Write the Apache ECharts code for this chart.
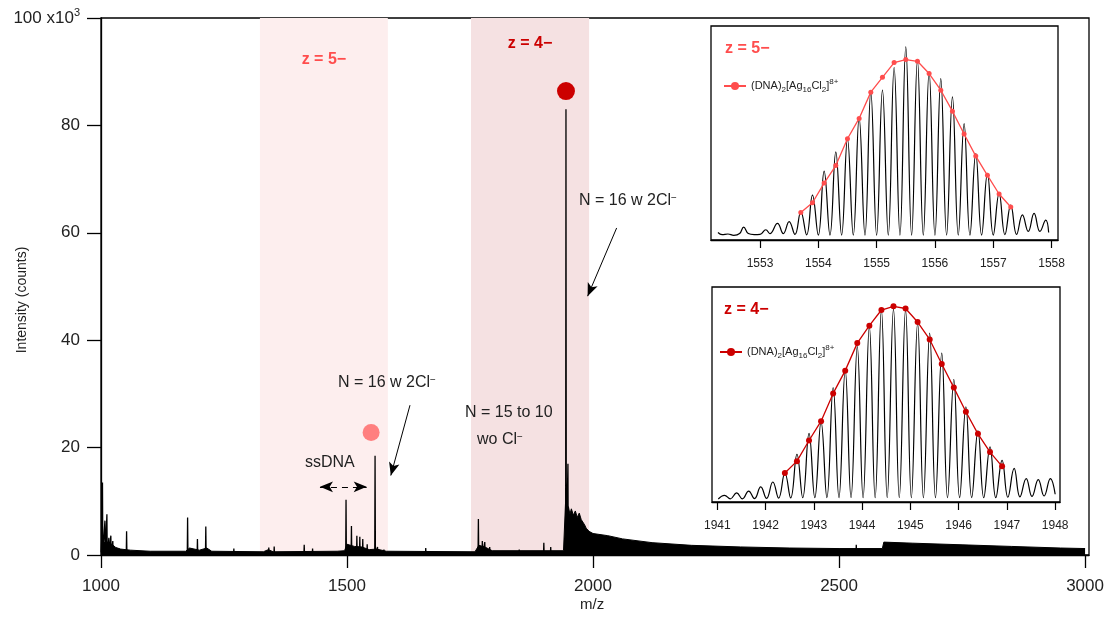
<!DOCTYPE html>
<html lang="en">
<head>
<meta charset="UTF-8">
<title>Mass spectrum</title>
<script src="https://cdn.jsdelivr.net/npm/echarts@6/dist/echarts.min.js"></script>
<style>html, body { margin: 0; padding: 0; background: #fff; }</style>
</head>
<body>
<div id="ms_wrap" style="width: 1107px; height: 617px;"></div>
<script>
    // main spectrum, intensity in 10^3 counts
    var xTicks = [1000, 1500, 2000, 2500, 3000];
    var floorMz  = [1000, 1001, 1006, 1010, 1015, 1022, 1030, 1040, 1060, 1100, 1172, 1180, 1200, 1215, 1225, 1330, 1340, 1350, 1480, 1495, 1500, 1515, 1530, 1545, 1560, 1580, 1760, 1768, 1780, 1795, 1900, 1940, 1943, 1944, 1947, 1950, 1953, 1956, 1960, 1964, 1968, 1972, 1976, 1980, 1983, 1986, 1992, 2000, 2030, 2060, 2120, 2200, 2300, 2400, 2500, 2588, 2591, 2650, 2750, 2850, 2950, 3000];
    var floorInt = [0.5, 2.6, 2.2, 2.6, 1.8, 2.0, 1.4, 1.1, 0.9, 0.7, 0.7, 1.3, 0.9, 1.3, 0.7, 0.6, 1.0, 0.6, 0.7, 0.8, 2.0, 1.6, 1.5, 1.0, 1.1, 0.7, 0.6, 1.8, 1.5, 0.8, 0.8, 0.8, 1.0, 9.5, 8.0, 9.0, 7.6, 8.6, 7.4, 8.2, 7.0, 7.8, 6.6, 6.8, 5.6, 5.0, 4.4, 4.0, 3.6, 3.0, 2.3, 1.8, 1.5, 1.3, 1.2, 1.2, 2.4, 2.2, 1.9, 1.6, 1.3, 1.2];
    var peakMz  = [1003, 1008, 1012, 1016, 1020, 1024, 1052, 1176, 1196, 1213, 1270, 1341, 1352, 1413, 1430, 1498, 1509, 1520, 1526, 1532, 1541, 1557, 1562, 1575, 1660, 1767, 1775, 1780, 1790, 1850, 1900, 1914, 1945, 1949, 2535];
    var peakInt = [13.5, 6.4, 7.6, 3.2, 3.6, 2.6, 4.4, 7.0, 3.0, 5.3, 1.2, 1.4, 1.6, 1.9, 1.2, 10.3, 5.4, 3.6, 3.4, 3.0, 2.0, 18.5, 1.5, 1.0, 1.3, 6.7, 2.6, 2.4, 1.5, 1.0, 2.3, 1.5, 83.0, 17.0, 1.9];
    var dot5 = [1549, 22.8];
    var dot4 = [1945, 86.4];
    var band5 = [1323, 1583];
    var band4 = [1752, 1992];

    // inset z = 5- (normalised intensity)
    var top5Ticks = [1553, 1554, 1555, 1556, 1557, 1558];
    var top5Mz  = [1552.28, 1552.35, 1552.45, 1552.55, 1552.65, 1552.72, 1552.8, 1552.9, 1553.0, 1553.1, 1553.17, 1553.3, 1553.4, 1553.5, 1553.6, 1553.7, 1553.8, 1553.9, 1554.0, 1554.1, 1554.2, 1554.3, 1554.4, 1554.5, 1554.6, 1554.7, 1554.8, 1554.9, 1555.0, 1555.1, 1555.2, 1555.3, 1555.4, 1555.5, 1555.6, 1555.7, 1555.8, 1555.9, 1556.0, 1556.1, 1556.2, 1556.3, 1556.4, 1556.5, 1556.6, 1556.7, 1556.8, 1556.9, 1557.0, 1557.1, 1557.2, 1557.3, 1557.4, 1557.5, 1557.6, 1557.7, 1557.8, 1557.9, 1557.95];
    var top5Int = [3.5, 2.5, 2.8, 2.2, 3.0, 6.0, 3.0, 2.5, 2.6, 4.8, 3.0, 7.8, 3.0, 8.6, 2.6, 13.2, 2.4, 21.0, 2.3, 32.2, 2.3, 41.2, 2.3, 47.4, 2.3, 57.2, 2.3, 69.2, 2.3, 70.0, 2.3, 80.6, 2.3, 90.2, 2.3, 84.0, 2.3, 78.5, 2.3, 75.4, 2.3, 66.9, 2.3, 54.4, 2.3, 40.4, 2.3, 31.1, 2.3, 21.8, 2.5, 16.3, 2.6, 11.7, 4.0, 12.4, 4.0, 9.3, 3.5];
    var fit5Mz  = [1553.7, 1553.9, 1554.1, 1554.3, 1554.5, 1554.7, 1554.9, 1555.1, 1555.3, 1555.5, 1555.7, 1555.9, 1556.1, 1556.3, 1556.5, 1556.7, 1556.9, 1557.1, 1557.3];
    var fit5Int = [12.8, 17.4, 26.6, 34.8, 47.3, 56.8, 69.1, 76.0, 82.9, 84.3, 83.5, 77.8, 70.0, 60.2, 49.5, 39.2, 30.2, 21.5, 15.4];

    // inset z = 4-
    var bot4Ticks = [1941, 1942, 1943, 1944, 1945, 1946, 1947, 1948];
    var bot4PeakMz  = [1941.15, 1941.4, 1941.65, 1941.9, 1942.15, 1942.4, 1942.65, 1942.9, 1943.15, 1943.4, 1943.65, 1943.9, 1944.15, 1944.4, 1944.65, 1944.9, 1945.15, 1945.4, 1945.65, 1945.9, 1946.15, 1946.4, 1946.65, 1946.9, 1947.15, 1947.4, 1947.65, 1947.9];
    var bot4PeakInt = [3.1, 4.2, 5.1, 7.0, 9.3, 13.5, 22.2, 31.9, 37.3, 53.2, 61.4, 72.3, 81.6, 89.4, 89.7, 89.4, 83.2, 78.5, 69.2, 57.1, 44.3, 33.1, 25.7, 19.4, 15.6, 10.9, 10.4, 10.9];
    var bot4ValleyMz  = [1941.02, 1941.27, 1941.52, 1941.77, 1942.02, 1942.27, 1942.52, 1942.77, 1943.02, 1943.27, 1943.52, 1943.77, 1944.02, 1944.27, 1944.52, 1944.77, 1945.02, 1945.27, 1945.52, 1945.77, 1946.02, 1946.27, 1946.52, 1946.77, 1947.02, 1947.27, 1947.52, 1947.77, 1948.0];
    var bot4ValleyInt = [1.4, 1.5, 1.5, 1.6, 1.7, 1.8, 1.9, 2.0, 2.0, 2.0, 2.0, 2.0, 2.0, 2.0, 2.0, 2.0, 2.0, 2.0, 2.0, 2.0, 2.0, 2.0, 2.0, 2.0, 2.2, 2.4, 2.6, 2.8, 3.6];
    var fit4Mz  = [1942.4, 1942.65, 1942.9, 1943.15, 1943.4, 1943.65, 1943.9, 1944.15, 1944.4, 1944.65, 1944.9, 1945.15, 1945.4, 1945.65, 1945.9, 1946.15, 1946.4, 1946.65, 1946.9];
    var fit4Int = [13.5, 19.0, 28.6, 37.6, 50.5, 61.1, 73.9, 82.0, 89.3, 91.0, 90.0, 83.7, 75.6, 64.2, 53.2, 42.0, 31.7, 23.2, 16.6];

    var FONT = 'Liberation Sans, Arial, Helvetica, sans-serif';

    function zip(a, b) {
        var out = [];
        for (var i = 0; i < a.length; i++) out.push([a[i], b[i]]);
        return out;
    }

    // each peak becomes a narrow spike on the line
    function spikes(mz, val, half) {
        var out = [];
        for (var i = 0; i < mz.length; i++) {
            out.push([mz[i] - half, 0], [mz[i], val[i]], [mz[i] + half, 0]);
        }
        return out;
    }

    function merged(aMz, aInt, bMz, bInt) {
        var out = zip(aMz, aInt).concat(zip(bMz, bInt));
        out.sort(function (p, q) { return p[0] - q[0]; });
        return out;
    }

    function plain(v) { return String(v); }

    var chart = echarts.init(document.getElementById('ms_wrap'));

    var axisLine = { lineStyle: { color: '#000', width: 1.3 } };
    var hideY = { show: false };
    var legendRich = {
        sub: { fontSize: 8, verticalAlign: 'bottom', fontFamily: FONT, color: '#222' },
        sup: { fontSize: 8, verticalAlign: 'top', fontFamily: FONT, color: '#222' }
    };
    function legendName() {
        return '(DNA){sub|2}[Ag{sub|16}Cl{sub|2}]{sup|8+}';
    }
    var supRich = { sup: { fontSize: 10, verticalAlign: 'top', fontFamily: FONT, fill: '#222', color: '#222' } };

    function note(x, y, text, font, color, rotation) {
        return {
            type: 'text', x: x, y: y, z: 100, rotation: rotation || 0,
            style: { text: text, rich: supRich, font: font, fill: color,
                     align: rotation ? 'center' : 'left', verticalAlign: 'middle' }
        };
    }

    var option = {
        animation: false,
        backgroundColor: '#fff',
        textStyle: { fontFamily: FONT },
        grid: [
            { left: 101, top: 18, right: 18, bottom: 62, outerBoundsMode: 'none', containLabel: false,
              show: true, borderColor: '#000', borderWidth: 1.3 },
            { left: 711, top: 26, width: 347, height: 214, outerBoundsMode: 'none', containLabel: false,
              show: true, borderColor: '#000', borderWidth: 1.3, backgroundColor: '#fff' },
            { left: 712, top: 287, width: 348, height: 215, outerBoundsMode: 'none', containLabel: false,
              show: true, borderColor: '#000', borderWidth: 1.3, backgroundColor: '#fff' }
        ],
        legend: [
            {
                data: ['fit5'], left: 718, top: 73, itemWidth: 22, itemHeight: 10,
                formatter: legendName,
                textStyle: { fontSize: 11, color: '#222', lineHeight: 16, rich: legendRich }
            },
            {
                data: ['fit4'], left: 714, top: 339, itemWidth: 22, itemHeight: 10,
                formatter: legendName,
                textStyle: { fontSize: 11, color: '#222', lineHeight: 16, rich: legendRich }
            }
        ],
        xAxis: [
            {
                gridIndex: 0, type: 'value', min: 1000, max: 3008,
                axisLine: axisLine,
                axisTick: { customValues: xTicks, length: 13, lineStyle: { color: '#000', width: 1.3 } },
                axisLabel: { customValues: xTicks, fontSize: 17, color: '#222', margin: 23, formatter: plain },
                splitLine: { show: false }
            },
            {
                gridIndex: 1, type: 'value', min: 1552.16, max: 1558.11,
                axisLine: axisLine,
                axisTick: { customValues: top5Ticks, length: 8, lineStyle: { color: '#000', width: 1.2 } },
                axisLabel: { customValues: top5Ticks, fontSize: 12, color: '#222', margin: 18, formatter: plain },
                splitLine: { show: false }
            },
            {
                gridIndex: 2, type: 'value', min: 1940.89, max: 1948.10,
                axisLine: axisLine,
                axisTick: { customValues: bot4Ticks, length: 8, lineStyle: { color: '#000', width: 1.2 } },
                axisLabel: { customValues: bot4Ticks, fontSize: 12, color: '#222', margin: 18, formatter: plain },
                splitLine: { show: false }
            }
        ],
        yAxis: [
            {
                gridIndex: 0, type: 'value', min: 0, max: 100, interval: 20,
                axisLine: { show: true, lineStyle: { color: '#000', width: 1.3 } },
                axisTick: { show: true, length: 14, lineStyle: { color: '#000', width: 1.3 } },
                axisLabel: {
                    fontSize: 17, color: '#222', margin: 21, lineHeight: 22,
                    formatter: function (v) { return v === 100 ? '100 x10{sup|3}' : String(v); },
                    rich: { sup: { fontSize: 11, verticalAlign: 'top', color: '#222' } }
                },
                splitLine: { show: false }
            },
            { gridIndex: 1, type: 'value', min: 0, max: 100, axisLine: hideY, axisTick: hideY, axisLabel: hideY, splitLine: hideY },
            { gridIndex: 2, type: 'value', min: 0, max: 100, axisLine: hideY, axisTick: hideY, axisLabel: hideY, splitLine: hideY }
        ],
        series: [
            {
                name: 'floor', type: 'line', xAxisIndex: 0, yAxisIndex: 0,
                data: zip(floorMz, floorInt), symbol: 'none', z: 2,
                lineStyle: { color: '#000', width: 1 },
                areaStyle: { color: '#000', opacity: 1 },
                markArea: {
                    silent: true, z: 0,
                    data: [
                        [{ xAxis: band5[0], itemStyle: { color: 'rgb(253,238,238)' },
                           label: { show: true, position: 'insideTop', distance: 34, formatter: 'z = 5\u2212',
                                    color: '#ff4d4d', fontWeight: 'bold', fontSize: 16 } },
                         { xAxis: band5[1] }],
                        [{ xAxis: band4[0], itemStyle: { color: 'rgb(245,225,226)' },
                           label: { show: true, position: 'insideTop', distance: 18, formatter: 'z = 4\u2212',
                                    color: '#cc0000', fontWeight: 'bold', fontSize: 16 } },
                         { xAxis: band4[1] }]
                    ]
                }
            },
            {
                name: 'peaks', type: 'line', xAxisIndex: 0, yAxisIndex: 0,
                data: spikes(peakMz, peakInt, 0.7), symbol: 'none', z: 3,
                lineStyle: { color: '#000', width: 1.3 },
                markLine: {
                    silent: true, symbol: ['none', 'arrow'], symbolSize: [8, 13],
                    label: { show: false },
                    lineStyle: { color: '#000', width: 1, type: 'solid' },
                    data: [
                        [{ coord: [2048, 60.9] }, { coord: [1989, 48.2] }],
                        [{ coord: [1628, 27.9] }, { coord: [1589, 14.8] }],
                        [{ coord: [1445, 12.7], symbol: 'arrow', lineStyle: { type: [6, 5] } },
                         { coord: [1540, 12.7], symbol: 'arrow' }]
                    ]
                }
            },
            {
                type: 'scatter', xAxisIndex: 0, yAxisIndex: 0, data: [dot5], z: 4,
                symbolSize: 17, itemStyle: { color: '#ff7f7f', opacity: 1 }
            },
            {
                type: 'scatter', xAxisIndex: 0, yAxisIndex: 0, data: [dot4], z: 4,
                symbolSize: 18, itemStyle: { color: '#cc0000', opacity: 1 }
            },
            {
                type: 'line', xAxisIndex: 1, yAxisIndex: 1, data: zip(top5Mz, top5Int),
                smooth: 0.45, symbol: 'none', z: 3, lineStyle: { color: '#000', width: 1.2 }
            },
            {
                name: 'fit5', type: 'line', xAxisIndex: 1, yAxisIndex: 1, data: zip(fit5Mz, fit5Int),
                symbol: 'circle', symbolSize: 5, z: 4,
                itemStyle: { color: '#ff4d4d' }, lineStyle: { color: '#ff4d4d', width: 1.3 }
            },
            {
                type: 'line', xAxisIndex: 2, yAxisIndex: 2,
                data: merged(bot4PeakMz, bot4PeakInt, bot4ValleyMz, bot4ValleyInt),
                smooth: 0.45, symbol: 'none', z: 3, lineStyle: { color: '#000', width: 1.2 }
            },
            {
                name: 'fit4', type: 'line', xAxisIndex: 2, yAxisIndex: 2, data: zip(fit4Mz, fit4Int),
                symbol: 'circle', symbolSize: 6, z: 4,
                itemStyle: { color: '#cc0000' }, lineStyle: { color: '#cc0000', width: 1.3 }
            }
        ],
        graphic: [
            note(22, 300, 'Intensity (counts)', '14px ' + FONT, '#222', Math.PI / 2),
            note(580, 605, 'm/z', '15px ' + FONT, '#222'),
            note(579, 201, 'N = 16 w 2Cl{sup|\u2212}', '16px ' + FONT, '#222'),
            note(338, 383, 'N = 16 w 2Cl{sup|\u2212}', '16px ' + FONT, '#222'),
            note(465, 413, 'N = 15 to 10', '16px ' + FONT, '#222'),
            note(477, 440, 'wo Cl{sup|\u2212}', '16px ' + FONT, '#222'),
            note(305, 463, 'ssDNA', '16px ' + FONT, '#222'),
            note(725, 49, 'z = 5\u2212', 'bold 16px ' + FONT, '#ff4d4d'),
            note(724, 310, 'z = 4\u2212', 'bold 16px ' + FONT, '#cc0000')
        ]
    };

    chart.setOption(option);
</script>
</body>
</html>
